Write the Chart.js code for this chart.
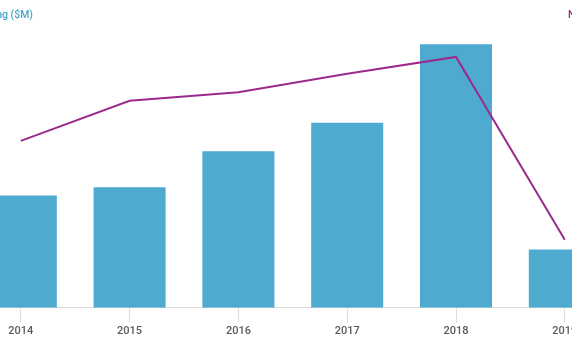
<!DOCTYPE html>
<html>
<head>
<meta charset="utf-8">
<script src="https://cdn.jsdelivr.net/npm/chart.js@4"></script>
<style>
  html, body { margin: 0; padding: 0; background: #fff; }
  #frame { position: relative; width: 572px; height: 340px; overflow: hidden; }
  #plot { position: absolute; left: -60px; top: 0; width: 720px; height: 340px; }
  .axis-title {
    position: absolute; top: 8px; font: 500 10.5px Roboto, sans-serif;
    line-height: 14px; white-space: nowrap;
  }
  #fundingTitle { right: 539px; color: #4aa6cf; }
  #dealsTitle { left: 568px; color: #9c2a8c; }
</style>
</head>
<body>
<div id="frame">
  <div id="plot"><canvas id="fundingChart"></canvas></div>
  <div class="axis-title" id="fundingTitle">Funding ($M)</div>
  <div class="axis-title" id="dealsTitle">Number of Deals</div>
</div>
<script>
const years = ['2014', '2015', '2016', '2017', '2018', '2019'];
const fundingMillions = [1203, 1293, 1679, 1985, 2825, 625];
const dealCounts = [179, 222, 231, 251, 269, 73];

const barColor = '#4eaacf';
const lineColor = '#9c2a8c';
const axisGray = '#dddddd';

new Chart(document.getElementById('fundingChart').getContext('2d'), {
  data: {
    labels: years,
    datasets: [
      {
        type: 'line',
        label: 'Number of Deals',
        data: dealCounts,
        yAxisID: 'deals',
        borderColor: lineColor,
        borderWidth: 2,
        pointRadius: 0,
        tension: 0,
        fill: false,
      },
      {
        type: 'bar',
        label: 'Funding ($M)',
        data: fundingMillions,
        yAxisID: 'funding',
        backgroundColor: barColor,
        borderWidth: 0,
        categoryPercentage: 1,
        barPercentage: 0.662,
      },
    ],
  },
  options: {
    responsive: true,
    maintainAspectRatio: false,
    animation: false,
    layout: { padding: { left: 26.4, right: 40.8, top: 28, bottom: 0 } },
    plugins: { legend: { display: false }, tooltip: { enabled: false } },
    scales: {
      x: {
        offset: true,
        grid: { offset: false, drawOnChartArea: false, drawTicks: true, tickLength: 15, color: axisGray },
        border: { display: true, color: axisGray },
        ticks: { color: '#5a5a5a', padding: 2, font: { family: 'Roboto', size: 11, weight: '500' } },
      },
      funding: { type: 'linear', display: false, position: 'left', min: 0, max: 3000 },
      deals: { type: 'linear', display: false, position: 'right', min: 0, max: 300 },
    },
  },
});
</script>
</body>
</html>
